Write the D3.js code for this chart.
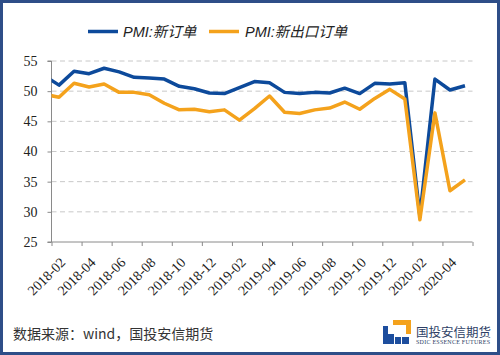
<!DOCTYPE html>
<html>
<head>
<meta charset="utf-8">
<script src="https://cdn.jsdelivr.net/npm/d3@7"></script>
<style>
html,body{margin:0;padding:0;background:#fff;}
svg{display:block;}
</style>
</head>
<body>
<svg id="chart" width="500" height="355"></svg>
<script>
// Months (2018-01 is partially visible, clipped at left edge of plot)
const months = ["2018-01","2018-02","2018-03","2018-04","2018-05","2018-06","2018-07","2018-08","2018-09","2018-10","2018-11","2018-12",
"2019-01","2019-02","2019-03","2019-04","2019-05","2019-06","2019-07","2019-08","2019-09","2019-10","2019-11","2019-12",
"2020-01","2020-02","2020-03","2020-04","2020-05"];
const newOrders = [52.6,51.0,53.3,52.9,53.8,53.2,52.3,52.2,52.0,50.8,50.4,49.7,
49.6,50.6,51.6,51.4,49.8,49.6,49.8,49.7,50.5,49.6,51.3,51.2,
51.4,29.3,52.0,50.2,50.9];
const newExportOrders = [49.5,49.0,51.3,50.7,51.2,49.8,49.8,49.4,48.0,46.9,47.0,46.6,
46.9,45.2,47.1,49.2,46.5,46.3,46.9,47.2,48.2,47.0,48.8,50.3,
48.7,28.7,46.4,33.5,35.3];
const seriesNames = ["PMI:新订单","PMI:新出口订单"];
const seriesColors = ["#0D4A9B","#F4A21C"];
const yTicks = [25,30,35,40,45,50,55];
const xLabels = ["2018-02","2018-04","2018-06","2018-08","2018-10","2018-12","2019-02","2019-04","2019-06","2019-08","2019-10","2019-12","2020-02","2020-04"];
const sourceText = "数据来源：wind，国投安信期货";

const svg = d3.select("#chart");
const W = 500, H = 355;
const plot = {left:51.5, right:472.5, top:61, bottom:242};

// border
svg.append("rect").attr("x",1.5).attr("y",1.5).attr("width",W-3).attr("height",H-3)
  .attr("fill","#fff").attr("stroke","#2E4E88").attr("stroke-width",3);

const x = d3.scaleLinear().domain([0.5, months.length - 0.5]).range([plot.left, plot.right]);
const y = d3.scaleLinear().domain([25,55]).range([plot.bottom, plot.top]);

// gridlines
svg.append("g").selectAll("line").data(yTicks.filter(d=>d>25)).join("line")
  .attr("x1",plot.left).attr("x2",plot.right)
  .attr("y1",d=>y(d)).attr("y2",d=>y(d))
  .attr("stroke","#C8C8C8").attr("stroke-width",1).attr("stroke-dasharray","5,3.5");

// y axis
const yAxis = d3.axisLeft(y).tickValues(yTicks).tickSize(4).tickPadding(10).tickFormat(d3.format("d"));
const gy = svg.append("g").attr("transform",`translate(${plot.left},0)`).call(yAxis);
gy.select(".domain").attr("stroke","#8A8A8A").attr("d",`M-4,${plot.top}H0V${plot.bottom}H-4`);
gy.selectAll(".tick line").attr("stroke","#8A8A8A");
gy.selectAll("text").attr("font-family","'Liberation Serif','DejaVu Serif',serif").attr("font-size",14).attr("fill","#222");

// x axis
const xTickVals = d3.range(0.5, months.length, 2);
const xAxis = d3.axisBottom(x).tickValues(xTickVals).tickSize(4).tickFormat("");
const gx = svg.append("g").attr("transform",`translate(0,${plot.bottom})`).call(xAxis);
gx.select(".domain").attr("stroke","#8A8A8A").attr("d",`M${plot.left},0H${plot.right}`);
gx.selectAll(".tick line").attr("stroke","#8A8A8A");

// x labels (rotated)
svg.append("g").selectAll("text").data(xLabels).join("text")
  .attr("transform",d=>`translate(${x(months.indexOf(d))+5},${plot.bottom+19}) rotate(-45)`)
  .attr("text-anchor","end")
  .attr("dominant-baseline","middle")
  .attr("font-family","'Liberation Serif','DejaVu Serif',serif")
  .attr("font-size",14).attr("fill","#222")
  .text(d=>d);

// clip
svg.append("clipPath").attr("id","clip").append("rect")
  .attr("x",plot.left).attr("y",0).attr("width",plot.right-plot.left).attr("height",H);

const line = d3.line().x((d,i)=>x(i)).y(d=>y(d));
const lines = svg.append("g").attr("clip-path","url(#clip)");
[newOrders,newExportOrders].forEach((s,k)=>{
  lines.append("path").datum(s).attr("d",line)
    .attr("fill","none").attr("stroke",seriesColors[k]).attr("stroke-width",3.5)
    .attr("stroke-linejoin","round");
});

// legend
const legendItems = [{x:88, tx:123},{x:209, tx:245}];
legendItems.forEach((it,k)=>{
  svg.append("line").attr("x1",it.x).attr("x2",it.x+30).attr("y1",31.5).attr("y2",31.5)
    .attr("stroke",seriesColors[k]).attr("stroke-width",3.5);
  svg.append("text").attr("x",it.tx).attr("y",31.5).attr("dominant-baseline","central")
    .attr("font-family","'Liberation Sans','Noto Sans CJK SC',sans-serif")
    .attr("font-style","italic").attr("font-size",14.5).attr("fill","#222")
    .text(seriesNames[k]);
});

// source
svg.append("text").attr("x",13).attr("y",333).attr("dominant-baseline","central")
  .attr("font-family","'Noto Sans CJK SC',sans-serif").attr("font-size",14).attr("fill","#333")
  .text(sourceText);

// logo
const lg = svg.append("g").attr("transform","translate(383,320)");
lg.append("path").attr("d","M10,0H28V14H23V5H10Z").attr("fill","#F4A21C");
lg.append("rect").attr("x",0).attr("y",6).attr("width",5).attr("height",18).attr("fill","#1D4E9E");
lg.append("rect").attr("x",5).attr("y",14).attr("width",6).attr("height",10).attr("fill","#1D4E9E");
lg.append("rect").attr("x",12).attr("y",17).attr("width",6).attr("height",7).attr("fill","#1D4E9E");
lg.append("rect").attr("x",19).attr("y",17).attr("width",7).attr("height",7).attr("fill","#1D4E9E");
svg.append("text").attr("x",416).attr("y",331).attr("dominant-baseline","central")
  .attr("font-family","'Noto Sans CJK SC',sans-serif").attr("font-size",12.5).attr("fill","#2E3F66")
  .text("国投安信期货");
svg.append("text").attr("x",416).attr("y",342).attr("dominant-baseline","central")
  .attr("font-family","'Liberation Serif',serif").attr("font-size",6).attr("fill","#2E3F66")
  .attr("textLength",74)
  .text("SDIC ESSENCE FUTURES");
</script>
</body>
</html>
